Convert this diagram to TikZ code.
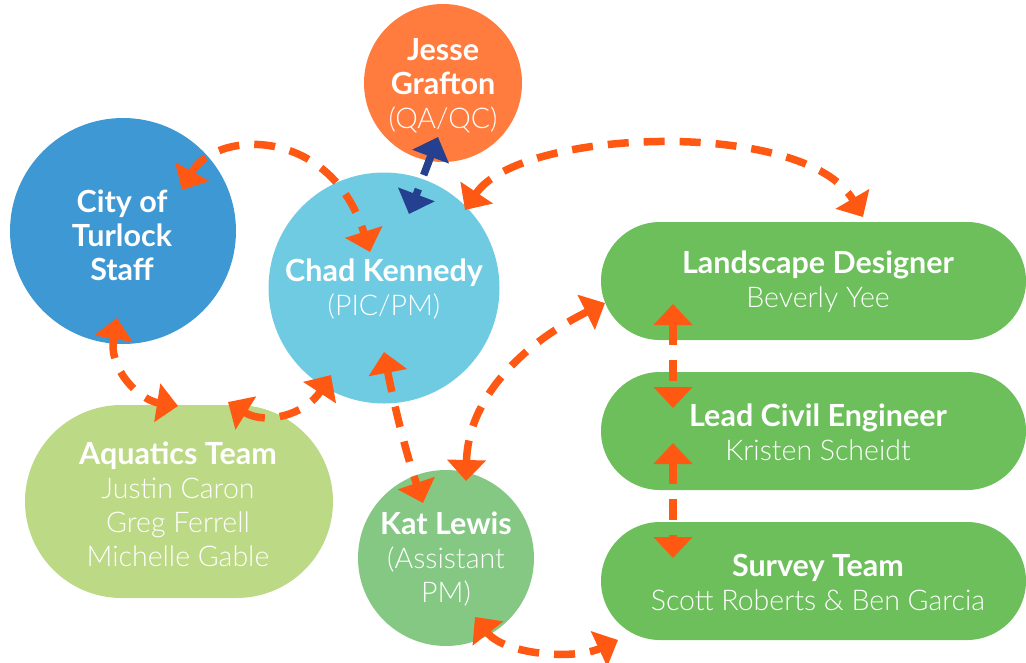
\documentclass[tikz,border=0pt]{standalone}
\usepackage{fontspec}
\setmainfont{Lato}
\newfontfamily\lightfont{Lato Light}
\usetikzlibrary{arrows.meta,shapes.misc}

\definecolor{linkorange}{HTML}{FF5812}
\definecolor{qanavy}{HTML}{24408E}
\definecolor{jesseorange}{HTML}{FF7B3E}
\definecolor{cityblue}{HTML}{3D98D3}
\definecolor{chadcyan}{HTML}{6ECBE2}
\definecolor{aquagreen}{HTML}{BCD986}
\definecolor{katgreen}{HTML}{84C884}
\definecolor{teamgreen}{HTML}{6CBF5B}

\tikzset{
  bubble/.style={circle, inner sep=0pt, draw=none, fill=#1},
  pill/.style={rounded rectangle, inner sep=0pt, draw=none, fill=#1},
  label text/.style={text=white, align=center,
    font=\fontsize{30}{34}\selectfont},
  link/.style={line width=7.5pt, linkorange,
    dash pattern=on 21pt off 15pt,
    {Triangle[length=21pt,width=38pt]}-{Triangle[length=21pt,width=38pt]}},
  qalink/.style={link, qanavy},
}
\newcommand{\ttl}[1]{{\fontsize{30.5}{34}\selectfont\bfseries #1}}
\newcommand{\sub}[1]{{\fontsize{28.5}{34}\selectfont\lightfont #1}}

\begin{document}
\begin{tikzpicture}[x=1pt,y=-1pt]
\useasboundingbox (0,0) rectangle (1026,662);

% people and teams
\node[bubble=jesseorange, minimum size=158pt] (jesse) at (443,83) {};
\node[bubble=cityblue, minimum size=226pt] (city) at (123,231) {};
\node[bubble=chadcyan, minimum size=231pt] (chad) at (384,288) {};
\node[pill=aquagreen, minimum width=308pt, minimum height=193pt] (aqua) at (179,501.5) {};
\node[bubble=katgreen, minimum size=176pt] (kat) at (446,558) {};
\node[pill=teamgreen, minimum width=425pt, minimum height=118pt] (land) at (813.5,281) {};
\node[pill=teamgreen, minimum width=425pt, minimum height=118pt] (civil) at (813.5,431) {};
\node[pill=teamgreen, minimum width=425pt, minimum height=118pt] (survey) at (813.5,581) {};

% names
\node[label text] (jessetxt) at (443,85.5) {\ttl{Jesse}\\\ttl{Grafton}\\\sub{(QA/QC)}};
\node[label text] (citytxt) at (122,235) {\ttl{City of}\\\ttl{Turlock}\\\ttl{Staff}};
\node[label text] (chadtxt) at (384,289.5) {\ttl{Chad Kennedy}\\\sub{(PIC/PM)}};
\node[label text] (aquatxt) at (178,504) {\ttl{Aquatics Team}\\\sub{Justin Caron}\\\sub{Greg Ferrell}\\\sub{Michelle Gable}};
\node[label text] (kattxt) at (446,559) {\ttl{Kat Lewis}\\\sub{(Assistant}\\\sub{PM)}};
\node[label text] (landtxt) at (818,282) {\ttl{Landscape Designer}\\\sub{Beverly Yee}};
\node[label text] (civiltxt) at (818,432) {\ttl{Lead Civil Engineer}\\\sub{Kristen Scheidt}};
\node[label text] (surveytxt) at (818,582) {\ttl{Survey Team}\\\sub{Scott Roberts \& Ben Garcia}};

% arrow tips
\coordinate (cityA) at (182,190);
\coordinate (chadA) at (370,252);
\coordinate (jesseB) at (438,137);
\coordinate (chadB) at (409,214);
\coordinate (chadC) at (465,210);
\coordinate (landC) at (863,217);
\coordinate (cityD) at (117,318);
\coordinate (aquaD) at (178,406);
\coordinate (aquaE) at (228,402);
\coordinate (chadE) at (331,375);
\coordinate (chadF) at (384,352);
\coordinate (katF) at (423,503);
\coordinate (landG) at (605,303);
\coordinate (katG) at (466,481);
\coordinate (katH) at (475,617);
\coordinate (surveyH) at (618,640);
\coordinate (landI) at (673,304);
\coordinate (civilI) at (673,408);
\coordinate (civilJ) at (673,443);
\coordinate (surveyJ) at (673,558);

% links
\draw[link] (cityA) .. controls (215,130) and (330,125) .. (chadA);
\draw[qalink] (jesseB) -- (chadB);
\draw[link] (chadC) .. controls (520,128) and (805,118) .. (landC);
\draw[link] (cityD) .. controls (108,370) and (140,400) .. (aquaD);
\draw[link] (aquaE) .. controls (265,425) and (305,415) .. (chadE);
\draw[link] (chadF) .. controls (393,400) and (405,450) .. (katF);
\draw[link] (katG) .. controls (468,400) and (520,345) .. (landG);
\draw[link] (katH) .. controls (505,655) and (575,660) .. (surveyH);
\draw[link] (landI) -- (civilI);
\draw[link] (civilJ) -- (surveyJ);
\end{tikzpicture}
\end{document}
